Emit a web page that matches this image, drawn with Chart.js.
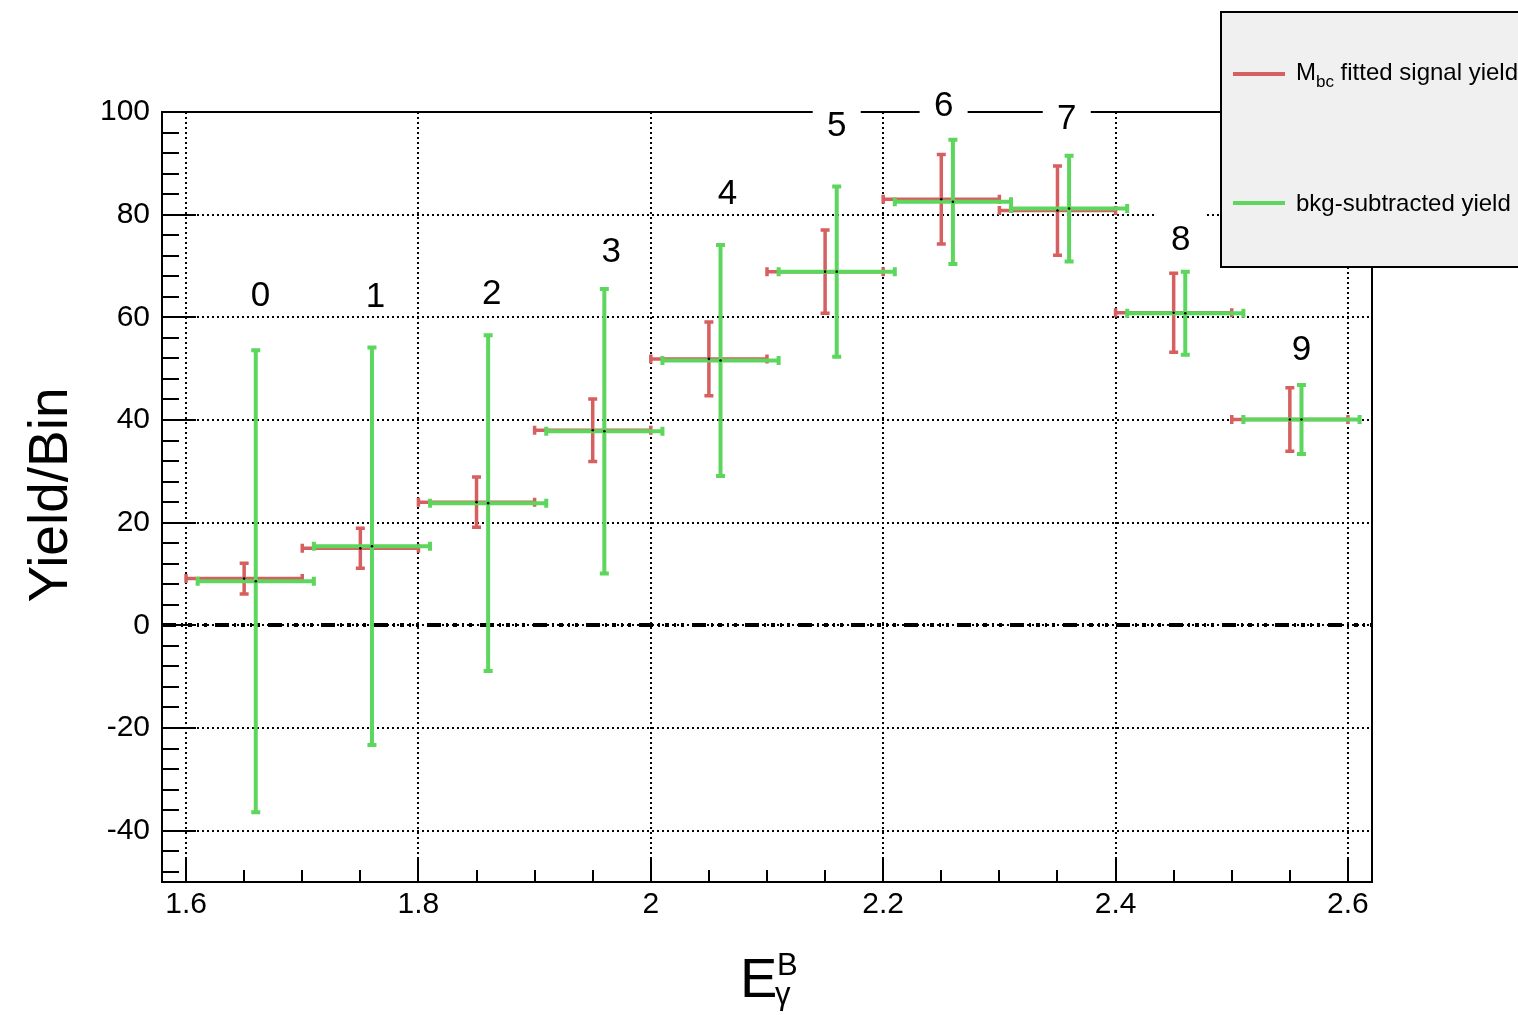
<!DOCTYPE html>
<html>
<head>
<meta charset="utf-8">
<script src="https://cdn.jsdelivr.net/npm/chart.js@4/dist/chart.umd.min.js"></script>
<style>
  html, body { margin: 0; padding: 0; background: #fff; }
  canvas { display: block; }
</style>
</head>
<body>
<canvas id="chart" width="1518" height="1015"></canvas>
<script>
// bin numbers written above each point
const binLabels = ['0', '1', '2', '3', '4', '5', '6', '7', '8', '9'];
const labelX = [1.664, 1.763, 1.863, 1.966, 2.066, 2.160, 2.252, 2.358, 2.456, 2.560];
const labelY = [64.6, 64.4, 65.0, 73.2, 84.5, 97.8, 101.6, 99.1, 75.6, 54.2];

// Mbc fitted signal yield
const redX = [1.65, 1.75, 1.85, 1.95, 2.05, 2.15, 2.25, 2.35, 2.45, 2.55];
const redXErr = [0.05, 0.05, 0.05, 0.05, 0.05, 0.05, 0.05, 0.05, 0.05, 0.05];
const redY = [9.1, 15.0, 24.0, 38.0, 51.9, 68.9, 83.0, 80.8, 60.9, 40.1];
const redYErr = [3.0, 3.9, 4.9, 6.1, 7.2, 8.1, 8.7, 8.7, 7.7, 6.2];

// bkg-subtracted yield
const greenX = [1.66, 1.76, 1.86, 1.96, 2.06, 2.16, 2.26, 2.36, 2.46, 2.56];
const greenXErr = [0.05, 0.05, 0.05, 0.05, 0.05, 0.05, 0.05, 0.05, 0.05, 0.05];
const greenY = [8.6, 15.4, 23.8, 37.8, 51.6, 68.9, 82.5, 81.2, 60.8, 40.1];
const greenYErr = [45.0, 38.7, 32.7, 27.7, 22.5, 16.6, 12.1, 10.3, 8.1, 6.7];

const xTicks = [1.6, 1.8, 2.0, 2.2, 2.4, 2.6];
const yTicks = [-40, -20, 0, 20, 40, 60, 80, 100];

const FONT = "'Liberation Sans', Arial, Helvetica, sans-serif";
const RED = '#d65f5f';
const GREEN = '#5cd65c';

function drawErrors(ctx, xs, ys, ds) {
    ctx.save();
    ctx.strokeStyle = ds.barColor;
    ctx.lineWidth = ds.barWidth;
    ctx.lineCap = 'butt';
    const cap = 4.5;
    ds.data.forEach((p, i) => {
        const px = xs.getPixelForValue(p.x);
        const py = ys.getPixelForValue(p.y);
        const x1 = xs.getPixelForValue(p.x - ds.xErr[i]);
        const x2 = xs.getPixelForValue(p.x + ds.xErr[i]);
        const y1 = ys.getPixelForValue(p.y + ds.yErr[i]);
        const y2 = ys.getPixelForValue(p.y - ds.yErr[i]);
        ctx.beginPath();
        ctx.moveTo(x1, py); ctx.lineTo(x2, py);
        ctx.moveTo(px, y1); ctx.lineTo(px, y2);
        // end caps
        ctx.moveTo(x1, py - cap); ctx.lineTo(x1, py + cap);
        ctx.moveTo(x2, py - cap); ctx.lineTo(x2, py + cap);
        ctx.moveTo(px - cap, y1); ctx.lineTo(px + cap, y1);
        ctx.moveTo(px - cap, y2); ctx.lineTo(px + cap, y2);
        ctx.stroke();
    });
    ctx.restore();
}

const rootStyle = {
    id: 'rootStyle',
    beforeDatasetsDraw(chart) {
        const { ctx, chartArea: a, scales: { x, y } } = chart;
        // dash-dot zero line
        const y0 = Math.round(y.getPixelForValue(0));
        ctx.save();
        ctx.strokeStyle = '#000';
        ctx.lineWidth = 4;
        ctx.setLineDash([14, 5, 2, 5, 4, 5, 2, 5, 3, 8]);
        ctx.beginPath();
        ctx.moveTo(a.left, y0);
        ctx.lineTo(a.right, y0);
        ctx.stroke();
        ctx.restore();
        chart.data.datasets.forEach(ds => drawErrors(ctx, x, y, ds));
    },
    afterDraw(chart) {
        const { ctx, chartArea: a, scales: { x, y } } = chart;
        ctx.save();
        ctx.strokeStyle = '#000';
        ctx.lineWidth = 2;

        // inner tick marks, ROOT style
        ctx.beginPath();
        for (let v = -48; v <= 100; v += 4) {
            const py = Math.round(y.getPixelForValue(v));
            const len = (v % 20 === 0) ? 34 : 17;
            ctx.moveTo(a.left, py); ctx.lineTo(a.left + len, py);
        }
        for (let k = 0; k <= 20; k++) {
            const v = 1.6 + k * 0.05;
            const px = Math.round(x.getPixelForValue(v));
            const len = (k % 4 === 0) ? 24 : 12;
            ctx.moveTo(px, a.bottom); ctx.lineTo(px, a.bottom - len);
        }
        ctx.stroke();

        // frame
        ctx.strokeRect(a.left, a.top, a.right - a.left, a.bottom - a.top);

        // bin numbers on white boxes
        ctx.font = '35px ' + FONT;
        ctx.textAlign = 'center';
        ctx.textBaseline = 'alphabetic';
        binLabels.forEach((t, i) => {
            const px = x.getPixelForValue(labelX[i]);
            const py = y.getPixelForValue(labelY[i]);
            ctx.fillStyle = '#fff';
            ctx.fillRect(px - 24, py - 25, 48, 46);
            ctx.fillStyle = '#000';
            ctx.fillText(t, px, py + 12.5);
        });

        // legend box
        ctx.fillStyle = '#f0f0f0';
        ctx.fillRect(1221, 12, 320, 255);
        ctx.strokeRect(1221, 12, 320, 255);
        ctx.lineWidth = 4;
        ctx.strokeStyle = RED;
        ctx.beginPath(); ctx.moveTo(1233, 74); ctx.lineTo(1285, 74); ctx.stroke();
        ctx.strokeStyle = GREEN;
        ctx.beginPath(); ctx.moveTo(1233, 203); ctx.lineTo(1285, 203); ctx.stroke();
        ctx.fillStyle = '#000';
        ctx.textAlign = 'left';
        ctx.font = '24px ' + FONT;
        let tx = 1296;
        ctx.fillText('M', tx, 80);
        tx += ctx.measureText('M').width;
        ctx.font = '17px ' + FONT;
        ctx.fillText('bc', tx, 87);
        tx += ctx.measureText('bc').width;
        ctx.font = '24px ' + FONT;
        ctx.fillText(' fitted signal yield', tx, 80);
        ctx.fillText('bkg-subtracted yield', 1296, 211);

        // axis titles
        ctx.font = '56px ' + FONT;
        ctx.fillText('E', 740, 997);
        ctx.font = '31px ' + FONT;
        ctx.fillText('B', 777, 975);
        ctx.fillText('\u03b3', 775, 1004);

        ctx.save();
        ctx.translate(67, 495);
        ctx.rotate(-Math.PI / 2);
        ctx.textAlign = 'center';
        ctx.font = '55px ' + FONT;
        ctx.fillText('Yield/Bin', 0, 0);
        ctx.restore();

        ctx.restore();
    }
};

const ctx = document.getElementById('chart').getContext('2d');
new Chart(ctx, {
    type: 'scatter',
    data: {
        datasets: [
            {
                label: 'Mbc fitted signal yield',
                data: redX.map((v, i) => ({ x: v, y: redY[i] })),
                xErr: redXErr,
                yErr: redYErr,
                barColor: RED,
                barWidth: 3.5,
                pointRadius: 1.3,
                pointBackgroundColor: '#000',
                pointBorderWidth: 0
            },
            {
                label: 'bkg-subtracted yield',
                data: greenX.map((v, i) => ({ x: v, y: greenY[i] })),
                xErr: greenXErr,
                yErr: greenYErr,
                barColor: GREEN,
                barWidth: 4,
                pointRadius: 1.3,
                pointBackgroundColor: '#000',
                pointBorderWidth: 0
            }
        ]
    },
    options: {
        responsive: false,
        animation: false,
        events: [],
        layout: { padding: { top: 112, right: 146, left: 0, bottom: 0 } },
        plugins: {
            legend: { display: false },
            tooltip: { enabled: false }
        },
        scales: {
            x: {
                type: 'linear',
                min: 1.5793,
                max: 2.6207,
                afterBuildTicks: s => { s.ticks = xTicks.map(v => ({ value: v })); },
                afterFit: s => { s.height = 133; },
                grid: { color: '#000', lineWidth: 2, drawTicks: false },
                border: { display: false, dash: [2, 3] },
                ticks: {
                    color: '#000',
                    font: { family: FONT, size: 30 },
                    padding: 5,
                    maxRotation: 0,
                    autoSkip: false,
                    callback: v => String(+v.toFixed(1))
                }
            },
            y: {
                type: 'linear',
                min: -50,
                max: 100,
                afterBuildTicks: s => { s.ticks = yTicks.map(v => ({ value: v })); },
                afterFit: s => { s.width = 162; },
                grid: { color: '#000', lineWidth: 2, drawTicks: false },
                border: { display: false, dash: [2, 3] },
                ticks: {
                    color: '#000',
                    font: { family: FONT, size: 30 },
                    padding: 12,
                    autoSkip: false
                }
            }
        }
    },
    plugins: [rootStyle]
});
</script>
</body>
</html>
